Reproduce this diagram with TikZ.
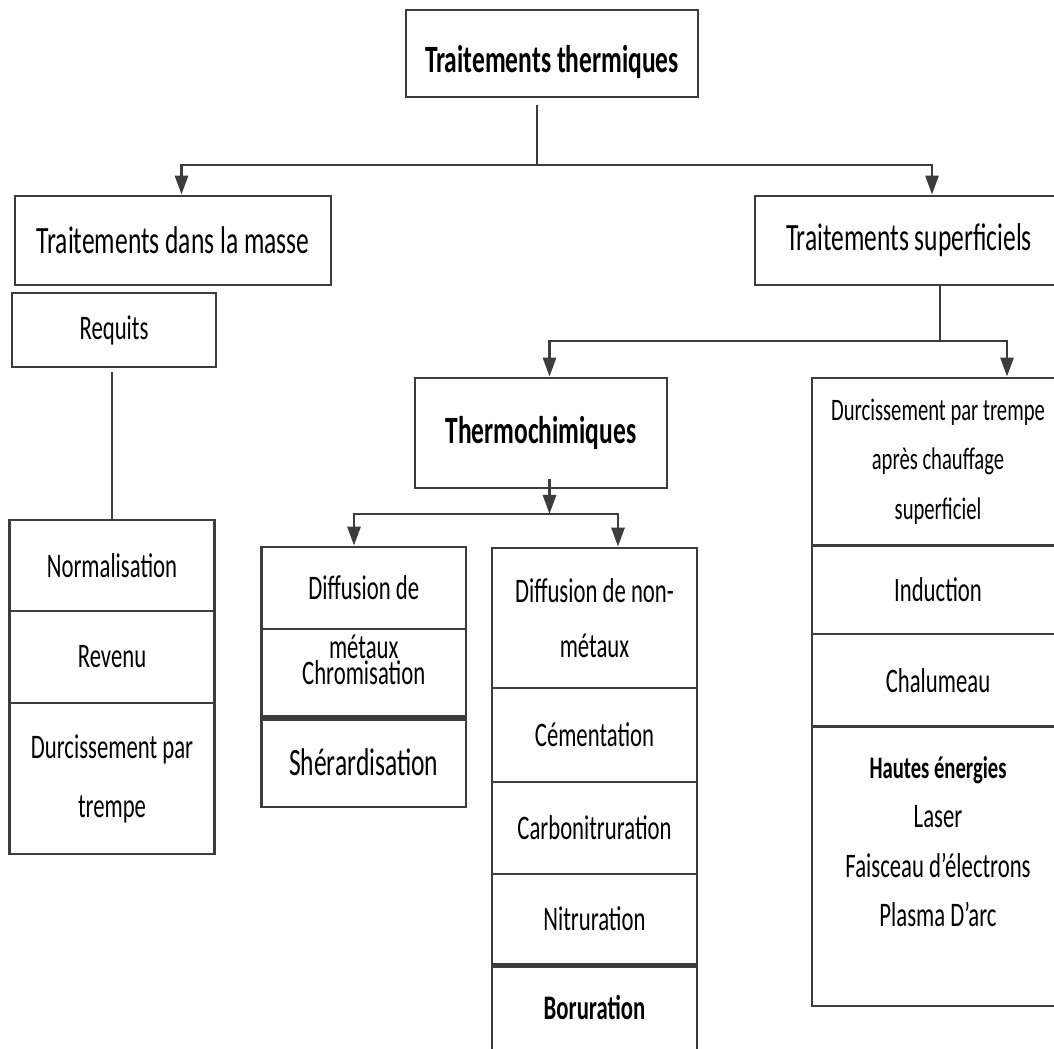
\documentclass[tikz,border=0pt]{standalone}
\usepackage{fontspec}
\setmainfont{Carlito}[FakeStretch=0.66]
\usetikzlibrary{arrows.meta}
\definecolor{boxgray}{RGB}{60,60,60}

\begin{document}
\begin{tikzpicture}[
		box/.style={draw=boxgray, line width=0.8pt, align=center, inner sep=0pt, font=\fontsize{9.8}{16}\selectfont},
		big/.style={font=\fontsize{11}{16}\selectfont},
		bigbf/.style={font=\fontsize{11}{16}\selectfont\bfseries},
		small/.style={font=\fontsize{8.9}{14.2}\selectfont},
		link/.style={draw=boxgray, line width=0.8pt},
		arr/.style={link, -{Triangle[length=0.19cm,width=0.13cm]}}]
		\path[use as bounding box, fill=white] (0,0) rectangle (10.54,-10.49);

		% top
		\node[box, bigbf, minimum width=2.92cm, minimum height=0.87cm, text height=0.45cm] (top) at (5.52,-0.535) {Traitements thermiques};

		% second row
		\node[box, big, minimum width=3.16cm, minimum height=0.89cm] (masse) at (1.73,-2.405) {Traitements dans la masse};
		\node[box, big, minimum width=3.08cm, minimum height=0.89cm] (sup) at (9.09,-2.405) {Traitements superficiels};

		% bulk column
		\node[box, minimum width=2.04cm, minimum height=0.74cm] (req) at (1.14,-3.30) {Requits};
		\node[box, minimum width=2.05cm, minimum height=0.91cm] (norm) at (1.12,-5.655) {Normalisation};
		\node[box, minimum width=2.05cm, minimum height=0.92cm] (rev) at (1.12,-6.57) {Revenu};
		\node[box, minimum width=2.05cm, minimum height=1.51cm, font=\fontsize{9.8}{16.8}\selectfont] (trempe) at (1.12,-7.785) {Durcissement par\\trempe};

		% thermochemical
		\node[box, bigbf, minimum width=2.52cm, minimum height=1.10cm] (thermo) at (5.41,-4.33) {Thermochimiques};

		% metals
		\node[box, minimum width=2.045cm, minimum height=0.82cm] (dm) at (3.6375,-5.88) {Diffusion de};
		\node[box, minimum width=2.045cm, minimum height=0.875cm] (chrom) at (3.6375,-6.7275) {Chromisation};
		\node[box, big, minimum width=2.045cm, minimum height=0.905cm] (sher) at (3.6375,-7.6175) {Shérardisation};
		\node[inner sep=0pt, font=\fontsize{9.8}{16}\selectfont] (dmx) at (3.6375,-6.47) {métaux};
		\draw[boxgray, line width=1.5pt] (chrom.south west) -- (chrom.south east);

		% non-metals
		\node[box, minimum width=2.05cm, minimum height=1.40cm, font=\fontsize{9.8}{15.6}\selectfont] (dn) at (5.945,-6.18) {Diffusion de non-\\métaux};
		\node[box, minimum width=2.05cm, minimum height=0.94cm] (cem) at (5.945,-7.35) {Cémentation};
		\node[box, minimum width=2.05cm, minimum height=0.92cm] (carbo) at (5.945,-8.28) {Carbonitruration};
		\node[box, minimum width=2.05cm, minimum height=0.90cm] (nitr) at (5.945,-9.19) {Nitruration};
		\node[box, minimum width=2.05cm, minimum height=0.88cm, font=\fontsize{9.8}{16}\selectfont\bfseries] (bor) at (5.945,-10.08) {Boruration};
		\draw[boxgray, line width=1.5pt] (nitr.south west) -- (nitr.south east);

		% surface hardening
		\node[box, small, minimum width=2.52cm, minimum height=1.675cm] (chauf) at (9.38,-4.6175) {Durcissement par trempe\\après chauffage\\superficiel};
		\node[box, minimum width=2.52cm, minimum height=0.885cm] (ind) at (9.38,-5.8975) {Induction};
		\node[box, minimum width=2.52cm, minimum height=0.926cm] (chal) at (9.38,-6.803) {Chalumeau};
		\node[box, minimum width=2.52cm, minimum height=2.794cm, font=\fontsize{9.8}{14.1}\selectfont] (he) at (9.38,-8.663) {{\fontsize{8.9}{14.1}\selectfont\bfseries Hautes énergies}\\Laser\\Faisceau d’électrons\\Plasma D’arc\\\mbox{}};

		% arrows
		\coordinate (j1) at (5.37,-1.65);
		\draw[link] ([yshift=-0.07cm]j1 |- top.south) -- (j1);
		\draw[arr] (j1) -| ([xshift=0.085cm]masse.north);
		\draw[arr] (j1) -| ([xshift=0.23cm]sup.north);

		\coordinate (j2) at (9.40,-3.41);
		\draw[link] (j2 |- sup.south) -- (j2);
		\draw[arr] (j2) -| ([xshift=0.085cm]thermo.north);
		\draw[arr] (j2) -| ([xshift=0.69cm]chauf.north);

		\coordinate (j3) at (5.495,-5.14);
		\draw[arr] ([yshift=0.1cm]j3 |- thermo.south) -- (j3);
		\draw[arr] (j3) -| ([xshift=-0.0975cm]dm.north);
		\draw[arr] (j3) -| ([xshift=0.235cm]dn.north);

		\draw[link] ([yshift=-0.04cm]norm.north |- req.south) -- (norm.north);
	\end{tikzpicture}
\end{document}
